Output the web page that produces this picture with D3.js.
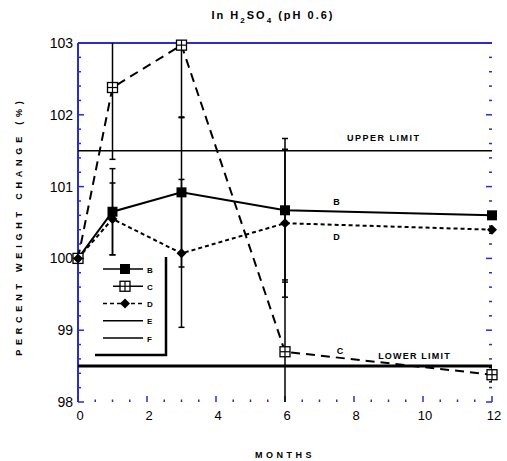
<!DOCTYPE html>
<html>
<head>
<meta charset="utf-8">
<script src="https://cdn.jsdelivr.net/npm/d3@7"></script>
<style>
  body { margin: 0; background: #fff; }
  text { font-family: "Liberation Sans", Arial, sans-serif; }
</style>
</head>
<body>
<svg id="chart" width="507" height="461"></svg>
<script>
// months sampled
const months = [0, 1, 3, 6, 12];

// percent weight change per sample
const seriesB = [100.0, 100.65, 100.92, 100.67, 100.6];
const seriesC = [100.0, 102.38, 102.97, 98.7, 98.38];
const seriesD = [100.0, 100.55, 100.07, 100.49, 100.4];

// +/- error per point
const errB = [0, 0.6, 1.04, 1.0, 0.05];
const errC = [0, 1.0, 1.0, 1.0, 0.1];
const errD = [0, 0.5, 1.03, 1.03, 0.05];

const upperLimit = 101.5;
const lowerLimit = 98.5;

const legendNames = ['B', 'C', 'D', 'E', 'F'];
const yTicks = [98, 99, 100, 101, 102, 103];
const xTicks = [0, 2, 4, 6, 8, 10, 12];

const w = 507;
const h = 461;
const margin = { top: 43, right: 15, bottom: 59, left: 78 };
const blue = '#2b2bd0';

const svg = d3.select('#chart');

const x = d3.scaleLinear().domain([0, 12]).range([margin.left, w - margin.right]);
const y = d3.scaleLinear().domain([98, 103]).range([h - margin.bottom, margin.top]);

svg.append('defs').append('clipPath').attr('id', 'plot')
  .append('rect')
    .attr('x', x(0)).attr('y', y(103))
    .attr('width', x(12) - x(0)).attr('height', y(98) - y(103));

// title with subscripts
const title = svg.append('text')
  .attr('x', 273).attr('y', 19)
  .attr('text-anchor', 'middle')
  .attr('font-size', 11).attr('font-weight', 'bold')
  .attr('letter-spacing', 2);
title.append('tspan').text('In H');
title.append('tspan').attr('dy', 4).attr('font-size', 8).text('2');
title.append('tspan').attr('dy', -4).text('SO');
title.append('tspan').attr('dy', 4).attr('font-size', 8).text('4');
title.append('tspan').attr('dy', -4).text(' (pH 0.6)');

// axes: left solid, top solid, right + bottom ticks only
const minorY = d3.range(98, 103.001, 0.2);
const minorX = d3.range(0, 12.001, 0.5);

const axes = svg.append('g').attr('stroke', blue);

axes.append('line')
  .attr('x1', x(0)).attr('x2', x(0)).attr('y1', y(103)).attr('y2', y(98))
  .attr('stroke-width', 2);
axes.append('line')
  .attr('x1', x(0)).attr('x2', x(12)).attr('y1', y(103)).attr('y2', y(103))
  .attr('stroke-width', 2);

const isMajorY = (v) => Math.abs(v - Math.round(v)) < 1e-6;

axes.selectAll('.tl').data(minorY).enter().append('line')
  .attr('x1', x(0)).attr('x2', (d) => x(0) + (isMajorY(d) ? 6 : 3))
  .attr('y1', (d) => y(d)).attr('y2', (d) => y(d))
  .attr('stroke-width', 1.5);

axes.selectAll('.tr').data(minorY).enter().append('line')
  .attr('x1', x(12)).attr('x2', (d) => x(12) - (isMajorY(d) ? 6 : 3))
  .attr('y1', (d) => y(d)).attr('y2', (d) => y(d))
  .attr('stroke-width', 1.5);

axes.selectAll('.tb').data(minorX).enter().append('line')
  .attr('x1', (d) => x(d)).attr('x2', (d) => x(d))
  .attr('y1', y(98)).attr('y2', (d) => y(98) - (d % 2 === 0 ? 6 : 2.5))
  .attr('stroke-width', 1.5);

// tick labels
svg.append('g').selectAll('text').data(yTicks).enter().append('text')
  .attr('x', x(0) - 5).attr('y', (d) => y(d) + 5)
  .attr('text-anchor', 'end').attr('font-size', 14)
  .text((d) => d);

svg.append('g').selectAll('text').data(xTicks).enter().append('text')
  .attr('x', (d) => x(d) + 2).attr('y', y(98) + 18)
  .attr('text-anchor', 'middle').attr('font-size', 13)
  .text((d) => d);

// axis titles
svg.append('text')
  .attr('x', 285).attr('y', 458)
  .attr('text-anchor', 'middle').attr('font-size', 9).attr('font-weight', 'bold')
  .attr('letter-spacing', 3.5)
  .text('MONTHS');

svg.append('text')
  .attr('transform', `translate(22, ${y(100.45)}) rotate(-90)`)
  .attr('text-anchor', 'middle').attr('font-size', 9).attr('font-weight', 'bold')
  .attr('letter-spacing', 4.8)
  .text('PERCENT WEIGHT CHANGE (%)');

const plot = svg.append('g').attr('clip-path', 'url(#plot)');

// limit lines
plot.append('line')
  .attr('x1', x(0)).attr('x2', x(12)).attr('y1', y(upperLimit)).attr('y2', y(upperLimit))
  .attr('stroke', '#000').attr('stroke-width', 1.5);
plot.append('line')
  .attr('x1', x(0)).attr('x2', x(12)).attr('y1', y(lowerLimit)).attr('y2', y(lowerLimit))
  .attr('stroke', '#000').attr('stroke-width', 3);

const series = [
  { name: 'B', values: seriesB, err: errB, dash: null, marker: 'square' },
  { name: 'C', values: seriesC, err: errC, dash: '9,6', marker: 'cross' },
  { name: 'D', values: seriesD, err: errD, dash: '4,3', marker: 'diamond' }
];

// error bars
series.forEach((s) => {
  const g = plot.append('g').attr('stroke', '#000').attr('stroke-width', 1.5);
  months.forEach((m, i) => {
    if (!s.err[i]) return;
    const lo = s.values[i] - s.err[i];
    const hi = s.values[i] + s.err[i];
    g.append('line').attr('x1', x(m)).attr('x2', x(m)).attr('y1', y(lo)).attr('y2', y(hi));
    [lo, hi].forEach((v) => {
      g.append('line').attr('x1', x(m) - 3).attr('x2', x(m) + 3).attr('y1', y(v)).attr('y2', y(v));
    });
  });
});

const line = d3.line().x((d) => x(d[0])).y((d) => y(d[1]));

series.forEach((s) => {
  plot.append('path')
    .datum(months.map((m, i) => [m, s.values[i]]))
    .attr('d', line)
    .attr('fill', 'none').attr('stroke', '#000').attr('stroke-width', 2)
    .attr('stroke-dasharray', s.dash);
});

function drawMarker(g, type, cx, cy) {
  if (type === 'square') {
    g.append('rect').attr('x', cx - 5).attr('y', cy - 5).attr('width', 10).attr('height', 10)
      .attr('fill', '#000');
  } else if (type === 'cross') {
    g.append('rect').attr('x', cx - 5).attr('y', cy - 5).attr('width', 10).attr('height', 10)
      .attr('fill', '#fff').attr('stroke', '#000').attr('stroke-width', 1.3);
    g.append('line').attr('x1', cx - 5).attr('x2', cx + 5).attr('y1', cy).attr('y2', cy)
      .attr('stroke', '#000').attr('stroke-width', 1.2);
    g.append('line').attr('x1', cx).attr('x2', cx).attr('y1', cy - 5).attr('y2', cy + 5)
      .attr('stroke', '#000').attr('stroke-width', 1.2);
  } else {
    g.append('path').attr('d', `M${cx},${cy - 5}L${cx + 5},${cy}L${cx},${cy + 5}L${cx - 5},${cy}Z`)
      .attr('fill', '#000');
  }
}

const markers = svg.append('g');
series.forEach((s) => {
  months.forEach((m, i) => drawMarker(markers, s.marker, x(m), y(s.values[i])));
});

// in-plot labels
const notes = svg.append('g').attr('font-size', 9).attr('font-weight', 'bold');
notes.append('text').attr('x', x(7.4)).attr('y', y(100.67) - 5).text('B');
notes.append('text').attr('x', x(7.4)).attr('y', y(100.49) + 17).text('D');
notes.append('text').attr('x', x(7.5)).attr('y', y(98.7) + 2).text('C');
notes.append('text').attr('x', x(7.8)).attr('y', y(upperLimit) - 10)
  .attr('letter-spacing', 1.5).text('UPPER LIMIT');
notes.append('text').attr('x', x(8.7)).attr('y', y(lowerLimit) - 7)
  .attr('letter-spacing', 1.2).text('LOWER LIMIT');

// legend
const legend = svg.append('g');
const legendStyles = [
  { dash: null, marker: 'square' },
  { dash: null, marker: 'cross' },
  { dash: '4,3', marker: 'diamond' },
  { dash: null, marker: null },
  { dash: null, marker: null }
];
const ly = d3.scalePoint().domain(legendNames).range([269, 338]);
legendNames.forEach((n, i) => {
  const st = legendStyles[i];
  const yy = ly(n);
  const x1 = st.marker === 'cross' ? 113 : 103;
  legend.append('line').attr('x1', x1).attr('x2', 143).attr('y1', yy).attr('y2', yy)
    .attr('stroke', '#000').attr('stroke-width', 1.5).attr('stroke-dasharray', st.dash);
  if (st.marker) drawMarker(legend, st.marker, 125, yy);
  legend.append('text').attr('x', 147).attr('y', yy + 3.5)
    .attr('font-size', 8).attr('font-weight', 'bold').text(n);
});
legend.append('path')
  .attr('d', 'M166,257V355H95')
  .attr('fill', 'none').attr('stroke', '#000').attr('stroke-width', 2.5);
</script>
</body>
</html>
